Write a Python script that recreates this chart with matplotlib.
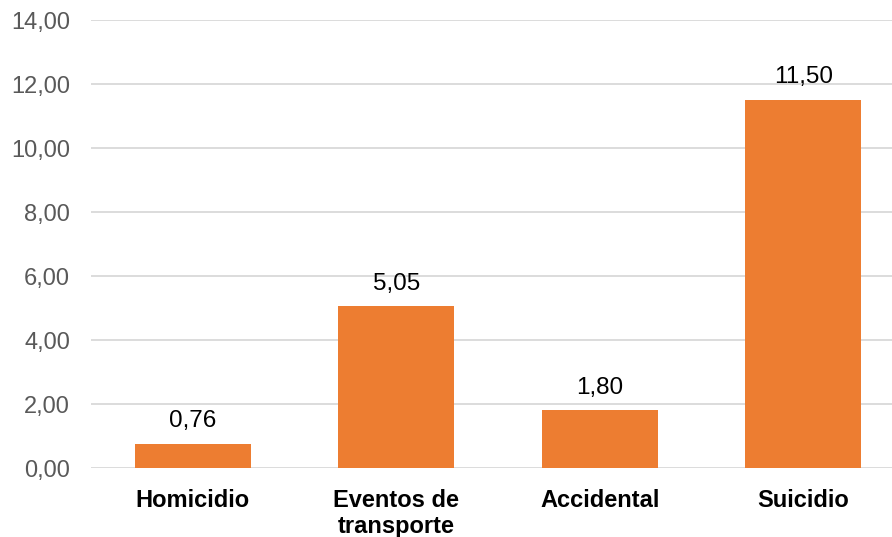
import matplotlib
matplotlib.use("Agg")
import matplotlib.pyplot as plt
from matplotlib.ticker import FuncFormatter

categories = ["Homicidio", "Eventos de\ntransporte", "Accidental", "Suicidio"]
values = [0.76, 5.05, 1.80, 11.50]
yticks = [0, 2, 4, 6, 8, 10, 12, 14]

plt.rcParams['font.family'] = ['Liberation Sans', 'DejaVu Sans']

fig = plt.figure(figsize=(8.92, 5.37), dpi=100)
ax = fig.add_axes([91/892, 1-468/537, 801/892, 448/537])

x = list(range(len(categories)))
bars = ax.bar(x, values, width=0.57, color="#ED7D31", zorder=3)
ax.set_xlim(-0.5, -0.5 + 801/203.5)
ax.set_ylim(0, 14)
ax.set_yticks(yticks)
ax.yaxis.set_major_formatter(FuncFormatter(lambda v, p: f"{v:.2f}".replace(".", ",")))
ax.grid(axis="y", color="#D9D9D9", linewidth=1.3, zorder=0)
ax.set_axisbelow(True)
for s in ax.spines.values():
    s.set_visible(False)
ax.tick_params(axis="y", length=0, labelsize=17, labelcolor="#595959", pad=15)
ax.tick_params(axis="x", length=0, pad=15)
ax.set_xticks(x)
ax.set_xticklabels(categories, fontsize=17, fontweight="bold", color="#000000", linespacing=1.15)
for xi, v in zip(x, values):
    ax.annotate(f"{v:.2f}".replace(".", ","), (xi, v), xytext=(0, 12), textcoords="offset points",
                ha="center", va="baseline", fontsize=17.5, color="#000000")

fig.savefig("out.png", dpi=100)
